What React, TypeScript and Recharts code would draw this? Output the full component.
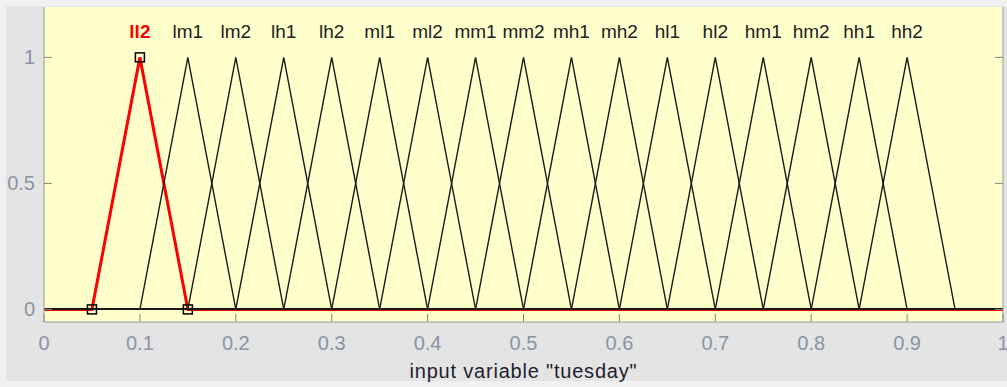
import {
  ComposedChart,
  Line,
  Scatter,
  XAxis,
  YAxis,
  CartesianGrid,
} from "recharts";

const CHART_W = 1007;
const CHART_H = 387;

// membership functions of input variable "tuesday" (triangles: start, peak, end)
const mfNames = [
  "ll2", "lm1", "lm2", "lh1", "lh2", "ml1", "ml2", "mm1", "mm2",
  "mh1", "mh2", "hl1", "hl2", "hm1", "hm2", "hh1", "hh2",
];
const mfStart = [0.05, 0.1, 0.15, 0.2, 0.25, 0.3, 0.35, 0.4, 0.45, 0.5, 0.55, 0.6, 0.65, 0.7, 0.75, 0.8, 0.85];
const mfPeak = [0.1, 0.15, 0.2, 0.25, 0.3, 0.35, 0.4, 0.45, 0.5, 0.55, 0.6, 0.65, 0.7, 0.75, 0.8, 0.85, 0.9];
const mfEnd = [0.15, 0.2, 0.25, 0.3, 0.35, 0.4, 0.45, 0.5, 0.55, 0.6, 0.65, 0.7, 0.75, 0.8, 0.85, 0.9, 0.95];
const selectedMf = 0;

const xDomain = [0, 1];
const yDomain = [-0.05, 1.2];
const xTicks = [0, 0.1, 0.2, 0.3, 0.4, 0.5, 0.6, 0.7, 0.8, 0.9, 1];
const yTicks = [0, 0.5, 1];
const labelLevel = 1.1;

const FONT = '"Liberation Sans", Arial, sans-serif';
const TICK_TEXT = "#8a93a6";
const TICK_LINE = "#858585";
const FRAME = "#9a9a9a";

const mfCurve = (i: number) => [
  { x: xDomain[0], y: 0 },
  { x: mfStart[i], y: 0 },
  { x: mfPeak[i], y: 1 },
  { x: mfEnd[i], y: 0 },
  { x: xDomain[1], y: 0 },
];

const handles = [
  { x: mfStart[selectedMf], y: 0 },
  { x: mfPeak[selectedMf], y: 1 },
  { x: mfEnd[selectedMf], y: 0 },
];

const nameLabels = mfNames.map((name, i) => ({ x: mfPeak[i], y: labelLevel, name, i }));

const BottomTick = ({ x, y, payload }: any) => (
  <g>
    <line x1={x} y1={y} x2={x} y2={y - 8} stroke={TICK_LINE} />
    <text x={x} y={y + 28} textAnchor="middle" fontSize={20} fontFamily={FONT} fill={TICK_TEXT}>
      {String(payload.value)}
    </text>
  </g>
);

const TopTick = ({ x, y }: any) => (
  <line x1={x} y1={y} x2={x} y2={y + 8} stroke={TICK_LINE} />
);

const LeftTick = ({ x, y, payload }: any) => (
  <g>
    <line x1={x} y1={y} x2={x + 8} y2={y} stroke={TICK_LINE} />
    <text x={x - 9} y={y + 7} textAnchor="end" fontSize={20} fontFamily={FONT} fill={TICK_TEXT}>
      {String(payload.value)}
    </text>
  </g>
);

const RightTick = ({ x, y }: any) => (
  <line x1={x} y1={y} x2={x - 8} y2={y} stroke={TICK_LINE} />
);

const HandleShape = ({ cx, cy }: any) => (
  <rect x={cx - 4.5} y={cy - 4.5} width={9} height={9} fill="none" stroke="#000" strokeWidth={1.5} />
);

const NameShape = ({ cx, cy, payload }: any) => {
  const sel = payload.i === selectedMf;
  return (
    <text
      x={cx}
      y={cy + 6}
      textAnchor="middle"
      fontSize={19}
      fontFamily={FONT}
      fontWeight={sel ? "bold" : "normal"}
      fill={sel ? "#ff0000" : "#222222"}
    >
      {payload.name}
    </text>
  );
};

export default function App() {
  return (
    <div
      style={{
        position: "absolute",
        left: 0,
        top: 0,
        width: CHART_W,
        height: CHART_H,
        background: "#f0f0f0",
      }}
    >
      <div
        style={{
          position: "absolute",
          left: 6,
          top: 6,
          width: CHART_W - 6,
          height: CHART_H - 12,
          background: "#e4e4e4",
        }}
      />
      <div style={{ position: "absolute", left: 0, top: 0 }}>
        <ComposedChart
          width={CHART_W}
          height={CHART_H}
          margin={{ top: 7, right: 0, bottom: 0, left: 0 }}
        >
          <CartesianGrid
            xAxisId="bottom"
            yAxisId="left"
            horizontal={false}
            vertical={false}
            fill="#ffffcc"
          />
          <XAxis
            xAxisId="bottom"
            type="number"
            dataKey="x"
            domain={xDomain}
            ticks={xTicks}
            allowDataOverflow
            height={65}
            tickSize={0}
            tickMargin={0}
            tickLine={false}
            axisLine={{ stroke: FRAME }}
            tick={<BottomTick />}
            interval={0}
            label={{
              value: 'input variable "tuesday"',
              position: "insideBottom",
              offset: 9,
              fontSize: 20,
              letterSpacing: 0.8,
              fontFamily: FONT,
              fill: "#1e1e30",
            }}
          />
          <XAxis
            xAxisId="top"
            orientation="top"
            type="number"
            dataKey="x"
            domain={xDomain}
            ticks={xTicks}
            allowDataOverflow
            height={0}
            tickSize={0}
            tickMargin={0}
            tickLine={false}
            axisLine={{ stroke: FRAME }}
            tick={<TopTick />}
            interval={0}
          />
          <YAxis
            yAxisId="left"
            type="number"
            domain={yDomain}
            ticks={yTicks}
            allowDataOverflow
            width={44}
            tickSize={0}
            tickMargin={0}
            tickLine={false}
            axisLine={{ stroke: FRAME }}
            tick={<LeftTick />}
            interval={0}
          />
          <YAxis
            yAxisId="right"
            orientation="right"
            type="number"
            domain={yDomain}
            ticks={yTicks}
            allowDataOverflow
            width={4}
            tickSize={0}
            tickMargin={0}
            tickLine={false}
            axisLine={{ stroke: FRAME }}
            tick={<RightTick />}
            interval={0}
          />
          <Line
            xAxisId="bottom"
            yAxisId="left"
            data={mfCurve(selectedMf)}
            dataKey="y"
            type="linear"
            stroke="#ff0000"
            strokeWidth={3}
            dot={false}
            activeDot={false}
            isAnimationActive={false}
          />
          {mfNames.map((name, i) =>
            i === selectedMf ? null : (
              <Line
                key={name}
                xAxisId="bottom"
                yAxisId="left"
                data={mfCurve(i)}
                dataKey="y"
                type="linear"
                stroke="#1a1a1a"
                strokeWidth={1.4}
                dot={false}
                activeDot={false}
                isAnimationActive={false}
              />
            )
          )}
          <Scatter
            xAxisId="bottom"
            yAxisId="left"
            data={handles}
            dataKey="y"
            shape={<HandleShape />}
            isAnimationActive={false}
          />
          <Scatter
            xAxisId="bottom"
            yAxisId="left"
            data={nameLabels}
            dataKey="y"
            shape={<NameShape />}
            isAnimationActive={false}
          />
        </ComposedChart>
      </div>
    </div>
  );
}
